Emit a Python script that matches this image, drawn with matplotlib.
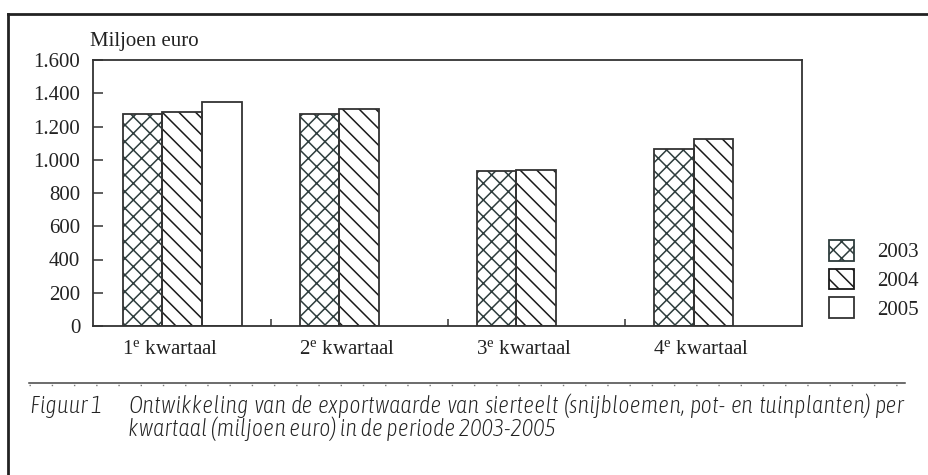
import numpy as np
import matplotlib
matplotlib.use("Agg")
import matplotlib.pyplot as plt
from matplotlib import font_manager
from matplotlib.patches import Patch
from matplotlib.lines import Line2D
from matplotlib.transforms import ScaledTranslation

# ---------------- data ----------------
categories = [r"1$^{\mathrm{e}}$ kwartaal", r"2$^{\mathrm{e}}$ kwartaal",
              r"3$^{\mathrm{e}}$ kwartaal", r"4$^{\mathrm{e}}$ kwartaal"]
years = ["2003", "2004", "2005"]
values_2003 = [1273, 1273, 932, 1066]
values_2004 = [1289, 1305, 940, 1127]
values_2005 = [1347, np.nan, np.nan, np.nan]
yticks = [0, 200, 400, 600, 800, 1000, 1200, 1400, 1600]
ytick_labels = ["0", "200", "400", "600", "800", "1.000", "1.200", "1.400", "1.600"]
y_title = "Miljoen euro"
caption_label = "Figuur 1"
caption_line1 = "Ontwikkeling van de exportwaarde van sierteelt (snijbloemen, pot- en tuinplanten) per"
caption_line2 = "kwartaal (miljoen euro) in de periode 2003-2005"

# ---------------- fonts ----------------
plt.rcParams["font.family"] = ["Liberation Serif", "DejaVu Serif"]
plt.rcParams["mathtext.fontset"] = "custom"
plt.rcParams["mathtext.rm"] = "Liberation Serif"
plt.rcParams["mathtext.it"] = "Liberation Serif:italic"
plt.rcParams["hatch.linewidth"] = 1.1

def pick_caption_font():
    cands = []
    for f in font_manager.fontManager.ttflist:
        nm = f.name.lower()
        fn = f.fname.lower()
        ital = f.style in ("italic", "oblique")
        narrow = ("narrow" in nm or "condensed" in nm or "narrow" in fn or "condensed" in fn
                  or str(f.stretch) in ("condensed", "semi-condensed", "extra-condensed"))
        if ital and narrow:
            score = 0
            if "light" in fn or f.weight in (300, "light"):
                score += 2
            if "bold" in fn:
                score -= 5
            cands.append((score, f.fname))
    if cands:
        cands.sort(key=lambda t: -t[0])
        return font_manager.FontProperties(fname=cands[0][1])
    return font_manager.FontProperties(family="DejaVu Sans", style="oblique")

cap_fp = pick_caption_font()

# ---------------- figure ----------------
W, H = 929, 475
fig = plt.figure(figsize=(W / 100, H / 100), dpi=100)
fig.patch.set_facecolor("white")

def fx(px):
    return px / W

def fy(py):
    return 1 - py / H

ax = fig.add_axes([fx(93.5), fy(326), fx(802) - fx(93.5), fy(60) - fy(326)])

x = np.arange(len(categories))
bw = 0.224
hatch_col = "#2e3d3d"
edge_col = "#333333"
series = [(values_2003, "xx", hatch_col), (values_2004, "\\\\", "#1a1a1a"), (values_2005, "", edge_col)]
for i, (vals, hatch, hc) in enumerate(series):
    pos = x + (i - 1) * bw
    if hatch:
        ax.bar(pos, vals, width=bw, facecolor="white", edgecolor=hc, hatch=hatch, linewidth=0, zorder=2)
    ax.bar(pos, vals, width=bw, fill=False, edgecolor=edge_col, linewidth=1.3, zorder=3)

ax.set_xlim(-0.5, len(categories) - 0.5)
ax.set_ylim(0, 1600)
ax.set_yticks(yticks)
ax.set_yticklabels(ytick_labels)
ax.set_xticks(x)
ax.set_xticklabels(categories)
ax.set_xticks(np.arange(0.5, len(categories) - 0.5, 1.0), minor=True)
ax.tick_params(axis="y", direction="in", length=7, width=1.1, color=edge_col,
               labelsize=15, pad=9.5, labelcolor="#222222")
ax.tick_params(axis="x", which="major", length=0, labelsize=15, pad=10, labelcolor="#222222")
ax.tick_params(axis="x", which="minor", direction="in", length=5, width=1.1, color=edge_col)
shift = ScaledTranslation(-12 / 100, 0, fig.dpi_scale_trans)
for lab in ax.get_xticklabels():
    lab.set_transform(lab.get_transform() + shift)
for s in ax.spines.values():
    s.set_color(edge_col)
    s.set_linewidth(1.3)

fig.text(fx(90), fy(46), y_title, fontsize=15, ha="left", va="baseline", color="#222222")

# legend
handles = [Patch(facecolor="white", edgecolor=hatch_col, hatch="xx", linewidth=1.3),
           Patch(facecolor="white", edgecolor="#1a1a1a", hatch="\\\\", linewidth=1.3),
           Patch(facecolor="white", edgecolor=edge_col, linewidth=1.3)]
leg = fig.legend(handles, years, loc="upper left", bbox_to_anchor=(fx(829), fy(240)),
                 frameon=False, fontsize=15, handlelength=1.2, handleheight=1.15,
                 labelspacing=0.3, handletextpad=1.1, borderpad=0, borderaxespad=0)
for t in leg.get_texts():
    t.set_color("#222222")

# outer frame
fig.add_artist(Line2D([fx(8), 1.0], [fy(14), fy(14)], color="#222222", linewidth=2))
fig.add_artist(Line2D([fx(8), fx(8)], [fy(14), 0.0], color="#222222", linewidth=2))

# separator rule
fig.add_artist(Line2D([fx(29), fx(905)], [fy(383), fy(383)], color="#444444", linewidth=1.1))
fig.add_artist(Line2D([fx(29), fx(905)], [fy(384.5), fy(384.5)], color="#777777", linewidth=1.0,
                      linestyle=(0, (1, 15))))

# caption
cap_size = 17.5
fig.canvas.draw()
renderer = fig.canvas.get_renderer()

def word_widths(size):
    ws = []
    for w in caption_line1.split():
        t = fig.text(0, 0, w, fontproperties=cap_fp, fontsize=size)
        ws.append(t.get_window_extent(renderer).width)
        t.remove()
    return ws

x0, x1 = 128, 905
words = caption_line1.split()
ws = word_widths(cap_size)
while (x1 - x0 - sum(ws)) / (len(words) - 1) < 4 and cap_size > 8:
    cap_size -= 0.5
    ws = word_widths(cap_size)
gap = (x1 - x0 - sum(ws)) / (len(words) - 1)
cx = x0
for w, wd in zip(words, ws):
    fig.text(fx(cx), fy(413), w, fontproperties=cap_fp, fontsize=cap_size,
             ha="left", va="baseline", color="#222222")
    cx += wd + gap
fig.text(fx(x0), fy(436), caption_line2, fontproperties=cap_fp, fontsize=cap_size,
         ha="left", va="baseline", color="#222222")
fig.text(fx(30), fy(413), caption_label, fontproperties=cap_fp, fontsize=cap_size,
         ha="left", va="baseline", color="#222222")

fig.savefig("out.png", dpi=100, facecolor="white")
